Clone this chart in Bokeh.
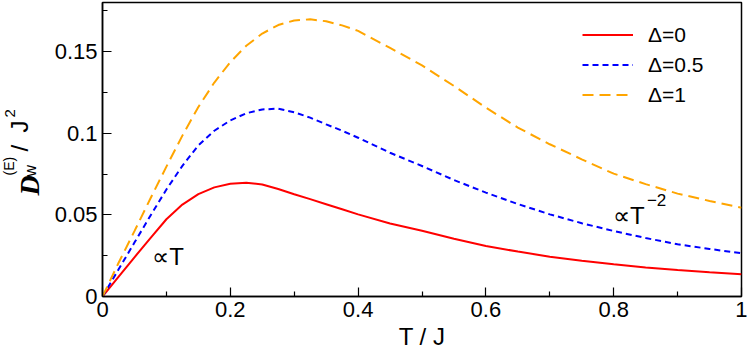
from bokeh.plotting import figure
from bokeh.layouts import row
from bokeh.models import FixedTicker, Legend, LegendItem, Label, Range1d
from bokeh.embed import file_html
from bokeh.resources import INLINE
import math

# ---- data ----
T = [0, 0.025, 0.05, 0.075, 0.1, 0.125, 0.15, 0.175, 0.2, 0.225, 0.25,
     0.275, 0.3, 0.325, 0.35, 0.375, 0.4,
     0.45, 0.5, 0.55, 0.6, 0.65, 0.7, 0.75, 0.8, 0.85, 0.9, 0.95, 1.0]
D_delta0 = [0, 0.0120, 0.0240, 0.0358, 0.0473, 0.0563, 0.0627, 0.0668,
            0.0690, 0.0697, 0.0686, 0.0658, 0.0626, 0.0596, 0.0565, 0.0534,
            0.0503,
            0.0447, 0.0402, 0.0354, 0.0309, 0.0275, 0.0244, 0.0219, 0.0197,
            0.0178, 0.0162, 0.0148, 0.0136]
D_delta05 = [0, 0.0165, 0.0330, 0.0495, 0.0655, 0.0800, 0.0925, 0.1015,
             0.1078, 0.1122, 0.1145, 0.1150, 0.1128, 0.1095, 0.1054, 0.1015,
             0.0972,
             0.0880, 0.0799, 0.0713, 0.0636, 0.0566, 0.0503, 0.0449, 0.0401,
             0.0358, 0.0320, 0.0291, 0.0265]
D_delta1 = [0, 0.0205, 0.0400, 0.0600, 0.0795, 0.0985, 0.1160, 0.1310,
            0.1435, 0.1535, 0.1610, 0.1662, 0.1690, 0.1697, 0.1685, 0.1660,
            0.1626,
            0.1522, 0.1415, 0.1289, 0.1156, 0.1034, 0.0932, 0.0840, 0.0752,
            0.0688, 0.0630, 0.0585, 0.0544]
series_labels = ["\u0394=0", "\u0394=0.5", "\u0394=1"]

x_ticks = [0, 0.2, 0.4, 0.6, 0.8, 1.0]
x_tick_labels = ["0", "0.2", "0.4", "0.6", "0.8", "1"]
x_minor = [0.1, 0.3, 0.5, 0.7, 0.9]
y_ticks = [0, 0.05, 0.1, 0.15]
y_tick_labels = ["0", "0.05", "0.1", "0.15"]
y_minor = [0.025, 0.075, 0.125, 0.175]

FONT = "Liberation Sans"
H = 353
LW = 44
TOP, BOTTOM = 2, 57

# ---------- main plot ----------
p = figure(width=747 - LW, height=H, x_range=Range1d(0, 1), y_range=Range1d(0, 0.18),
           output_backend="svg", toolbar_location=None,
           min_border_left=58, min_border_right=6, min_border_top=TOP,
           min_border_bottom=BOTTOM)
p.background_fill_color = "white"
p.border_fill_color = "white"
p.grid.visible = False
p.outline_line_color = "black"
p.outline_line_width = 1.5
p.outline_line_alpha = 1.0

for ax, ticks, labels, minor in ((p.xaxis[0], x_ticks, x_tick_labels, x_minor),
                                 (p.yaxis[0], y_ticks, y_tick_labels, y_minor)):
    ax.ticker = FixedTicker(ticks=ticks, minor_ticks=minor)
    ax.major_label_overrides = dict(zip(ticks, labels))
    ax.axis_line_color = "black"
    ax.axis_line_width = 1.5
    ax.major_tick_in = 9
    ax.major_tick_out = 0
    ax.minor_tick_in = 5
    ax.minor_tick_out = 0
    ax.major_tick_line_color = "black"
    ax.minor_tick_line_color = "black"
    ax.major_tick_line_width = 1.2
    ax.minor_tick_line_width = 1.2
    ax.major_label_text_font = FONT
    ax.major_label_text_font_size = "22px"
    ax.major_label_text_color = "black"
    ax.major_label_standoff = 5

p.xaxis.axis_label = "T / J"
p.xaxis.axis_label_text_font = FONT
p.xaxis.axis_label_text_font_size = "24px"
p.xaxis.axis_label_text_font_style = "normal"
p.xaxis.axis_label_text_color = "black"
p.xaxis.axis_label_standoff = 3

r0 = p.line(T, D_delta0, line_color="#ff0000", line_width=2)
r1 = p.line(T, D_delta05, line_color="#0000ff", line_width=2, line_dash="6 4")
r2 = p.line(T, D_delta1, line_color="#ffa500", line_width=2, line_dash="11 6")

legend = Legend(items=[LegendItem(label=series_labels[0], renderers=[r0]),
                       LegendItem(label=series_labels[1], renderers=[r1]),
                       LegendItem(label=series_labels[2], renderers=[r2])],
                location=(480, 189), glyph_width=51, glyph_height=25,
                label_height=25, label_standoff=15, spacing=5, padding=0,
                margin=0, border_line_alpha=0, background_fill_alpha=0,
                label_text_font=FONT, label_text_font_size="21px",
                label_text_color="black")
p.add_layout(legend)

# annotations inside the plot
p.add_layout(Label(x=0.078, y=0.0242, text="\u221dT", text_font=FONT,
                   text_font_size="24px", text_baseline="alphabetic",
                   text_align="left", text_color="black"))
p.add_layout(Label(x=0.799, y=0.0493, text="\u221dT", text_font=FONT,
                   text_font_size="24px", text_baseline="alphabetic",
                   text_align="left", text_color="black"))
p.add_layout(Label(x=0.852, y=0.0588, text="\u22122", text_font=FONT,
                   text_font_size="17px", text_baseline="alphabetic",
                   text_align="left", text_color="black"))

# ---------- strip holding the rotated y-axis title ----------
q = figure(width=LW, height=H, x_range=Range1d(0, LW),
           y_range=Range1d(BOTTOM, H - TOP),
           output_backend="svg", toolbar_location=None,
           x_axis_location=None, y_axis_location=None,
           min_border_left=0, min_border_right=0,
           min_border_top=TOP, min_border_bottom=BOTTOM)
q.grid.visible = False
q.outline_line_color = None
q.background_fill_color = "white"
q.border_fill_color = "white"

ang = math.pi / 2
pieces = [
    dict(x=29, y=H - 195, text="D", text_font="Liberation Serif",
         text_font_style="bold italic", text_font_size="28px"),
    dict(x=30, y=H - 176, text="w", text_font=FONT, text_font_style="normal",
         text_font_size="16px"),
    dict(x=8, y=H - 175, text="(E)", text_font=FONT, text_font_style="normal",
         text_font_size="14px"),
    dict(x=19, y=H - 151, text="/", text_font=FONT, text_font_style="normal",
         text_font_size="24px"),
    dict(x=19, y=H - 132, text="J", text_font=FONT, text_font_style="normal",
         text_font_size="24px"),
    dict(x=9, y=H - 117, text="2", text_font=FONT, text_font_style="normal",
         text_font_size="15px"),
]
for pc in pieces:
    q.add_layout(Label(angle=ang, text_align="left", text_baseline="alphabetic",
                       text_color="black", **pc))

layout = row(q, p)
open("out.html", "w").write(file_html(layout, INLINE))
